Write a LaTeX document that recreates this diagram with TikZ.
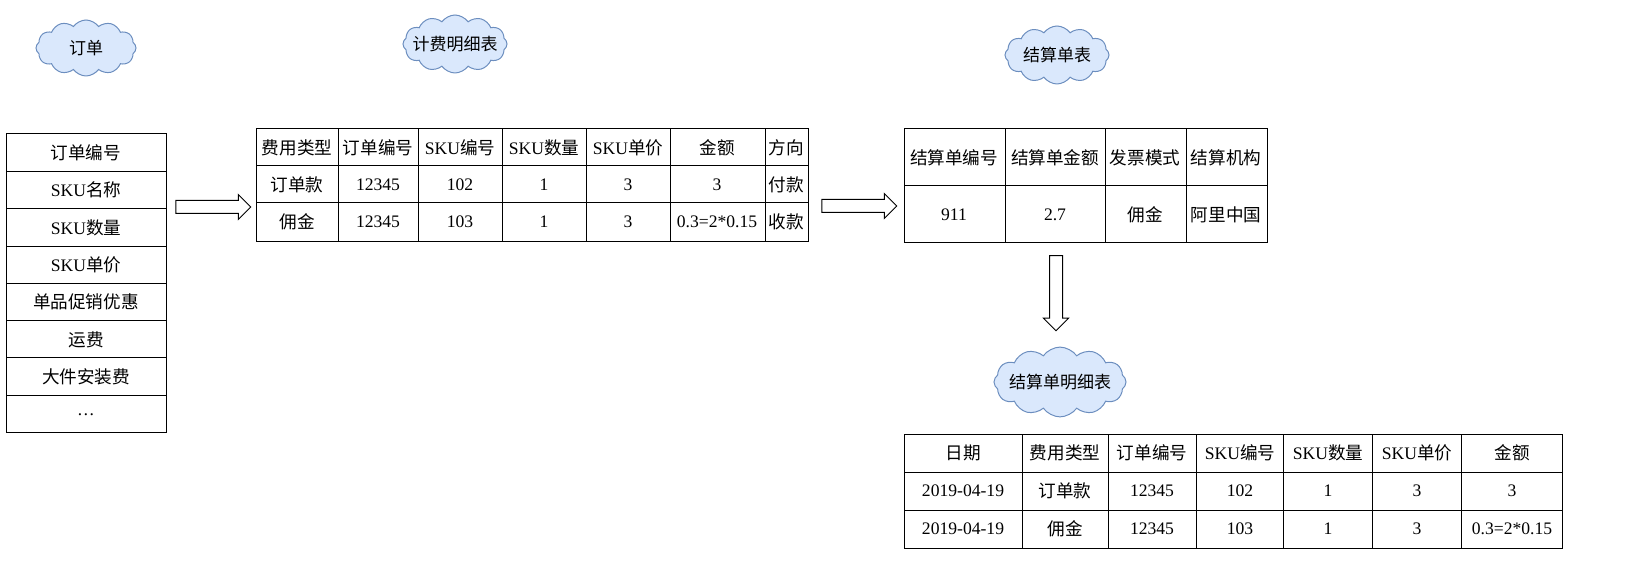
\documentclass[tikz,border=0pt]{standalone}
\usepackage{fontspec}
\setmainfont{Liberation Serif}
\newfontfamily\cjk{Noto Sans CJK SC}
\newcommand{\zh}[1]{{\cjk #1}}
\usetikzlibrary{shapes.symbols,shapes.arrows}
\definecolor{cloudfill}{HTML}{DAE8FC}
\definecolor{cloudline}{HTML}{6C8EBF}
\tikzset{
  cloudy/.style = {cloud, cloud puffs=12, cloud puff arc=110, aspect=2.2, draw=cloudline, fill=cloudfill,
    inner sep=-4pt, font=\fontsize{8.5}{10}\selectfont\cjk},
  cell/.style = {font=\fontsize{8.8}{10}\selectfont, inner sep=0pt},
  fat/.style = {single arrow, draw, fill=white, single arrow head extend=3pt,
    single arrow head indent=0pt, inner sep=3pt, minimum height=37.5pt, minimum width=12pt},
}
\begin{document}
\begin{tikzpicture}[x=0.5pt,y=-0.5pt,line width=0.5pt]
    \useasboundingbox (0,0) rectangle (1643,581);
    % clouds
    \node[cloudy, minimum width=50pt, minimum height=28pt] (cOrder) at (86,48) {订单};
    \node[cloudy, minimum width=52pt, minimum height=29pt] (cFee) at (455,44) {计费明细表};
    \node[cloudy, minimum width=52pt, minimum height=29pt] (cBill) at (1057,55) {结算单表};
    \node[cloudy, minimum width=66pt, minimum height=29pt] (cBillDet) at (1060,382) {结算单明细表};
    % order table
    \draw (6,134) rectangle (166,433);
    \foreach \y in {172,209,247,284,321,358,396} \draw (6,\y) -- (166,\y);
    \foreach \t [count=\i] in {\zh{订单编号},SKU\zh{名称},SKU\zh{数量},SKU\zh{单价},\zh{单品促销优惠},\zh{运费},\zh{大件安装费},\dots}
        \node[cell] (o\i) at (86,{134+37.4*(\i-0.5)}) {\t};
    % fee table
    \draw (256,129) rectangle (808,242);
    \foreach \y in {166,203} \draw (256,\y) -- (808,\y);
    \foreach \x in {338,418,502,586,670,765} \draw (\x,129) -- (\x,242);
    \foreach \x/\t [count=\i] in {297/\zh{费用类型},378/\zh{订单编号},460/SKU\zh{编号},544/SKU\zh{数量},628/SKU\zh{单价},717/\zh{金额},786/\zh{方向}}
        \node[cell] (fa\i) at (\x,148) {\t};
    \foreach \x/\t [count=\i] in {297/\zh{订单款},378/12345,460/102,544/1,628/3,717/3,786/\zh{付款}}
        \node[cell] (fb\i) at (\x,185) {\t};
    \foreach \x/\t [count=\i] in {297/\zh{佣金},378/12345,460/103,544/1,628/3,717/0.3=2*0.15,786/\zh{收款}}
        \node[cell] (fc\i) at (\x,222) {\t};
    % bill table
    \draw (904,129) rectangle (1267,243);
    \draw (904,186) -- (1267,186);
    \foreach \x in {1005,1105,1186} \draw (\x,129) -- (\x,243);
    \foreach \x/\t [count=\i] in {954/\zh{结算单编号},1055/\zh{结算单金额},1145/\zh{发票模式},1226/\zh{结算机构}}
        \node[cell] (ba\i) at (\x,158) {\t};
    \foreach \x/\t [count=\i] in {954/911,1055/2.7,1145/\zh{佣金},1226/\zh{阿里中国}}
        \node[cell] (bb\i) at (\x,215) {\t};
    % bill detail table
    \draw (904,435) rectangle (1562,549);
    \foreach \y in {473,511} \draw (904,\y) -- (1562,\y);
    \foreach \x in {1022,1108,1196,1283,1372,1461} \draw (\x,435) -- (\x,549);
    \foreach \x/\t [count=\i] in {963/\zh{日期},1065/\zh{费用类型},1152/\zh{订单编号},1240/SKU\zh{编号},1328/SKU\zh{数量},1417/SKU\zh{单价},1512/\zh{金额}}
        \node[cell] (da\i) at (\x,453) {\t};
    \foreach \x/\t [count=\i] in {963/2019-04-19,1065/\zh{订单款},1152/12345,1240/102,1328/1,1417/3,1512/3}
        \node[cell] (db\i) at (\x,491) {\t};
    \foreach \x/\t [count=\i] in {963/2019-04-19,1065/\zh{佣金},1152/12345,1240/103,1328/1,1417/3,1512/0.3=2*0.15}
        \node[cell] (dc\i) at (\x,529) {\t};
    % block arrows
    \node[fat] (a1) at (210,207) {};
    \node[fat] (a2) at (856,206) {};
    \node[fat, rotate=-90] (a3) at (1056,290) {};
\end{tikzpicture}
\end{document}
